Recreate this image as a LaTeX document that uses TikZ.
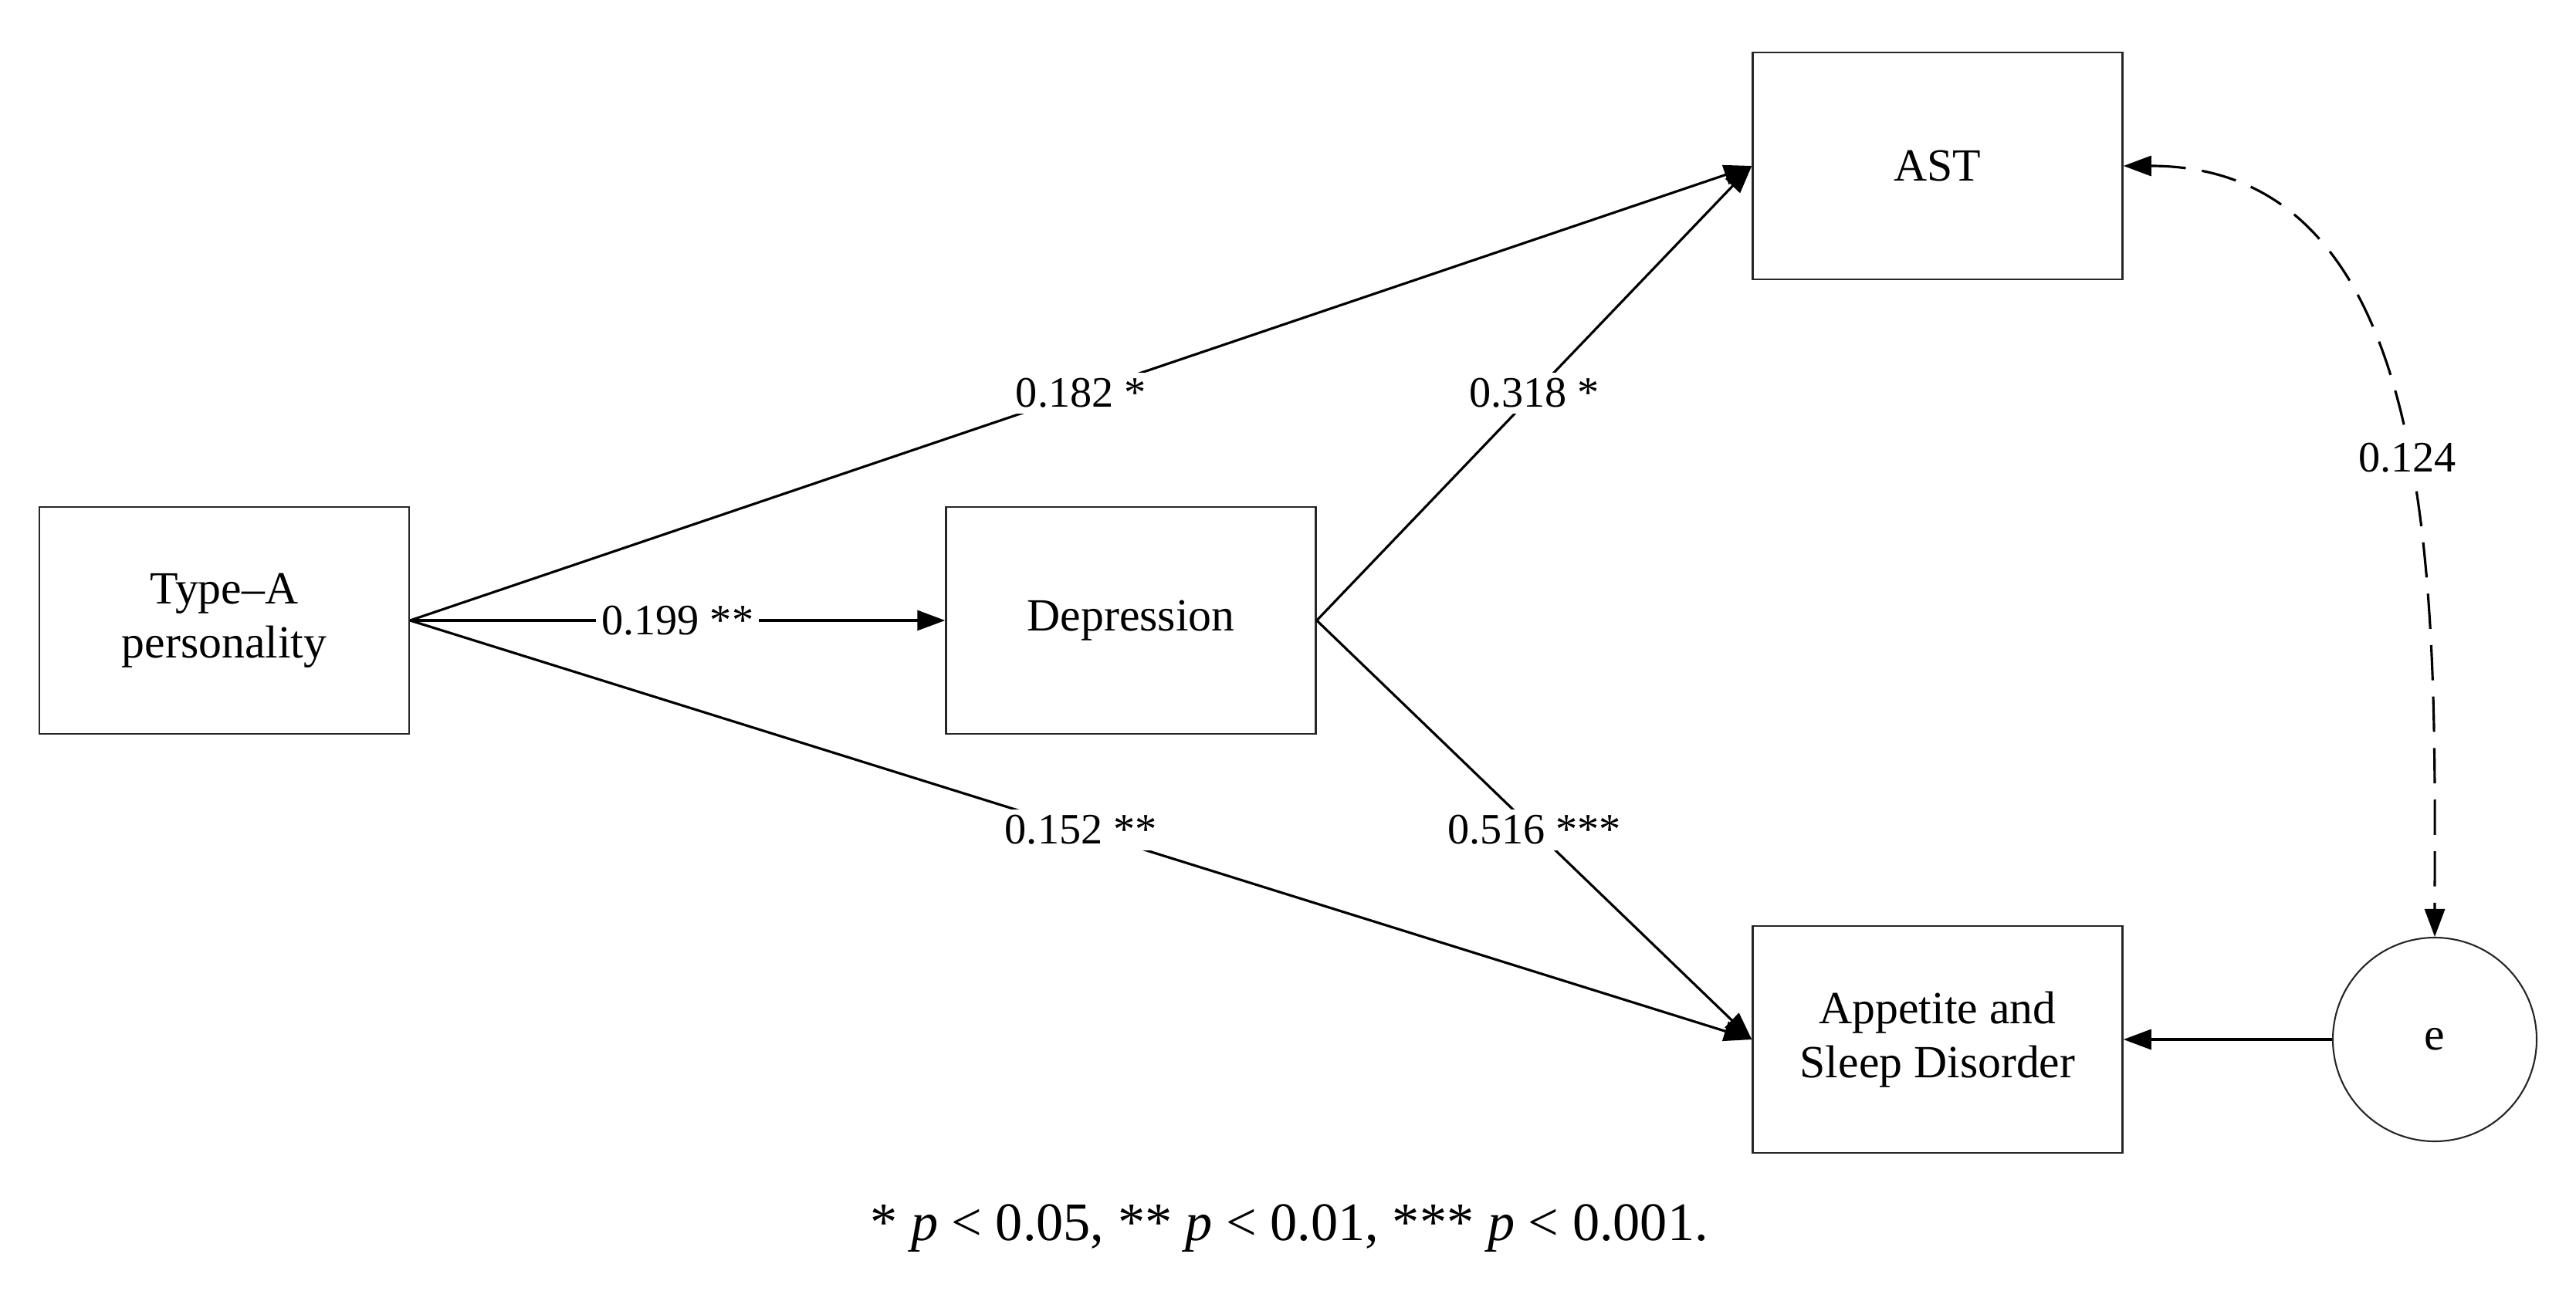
\documentclass[tikz,border=0pt]{standalone}
\usepackage{fontspec}
\setmainfont{Liberation Serif}
\usetikzlibrary{arrows.meta}

\begin{document}
\begin{tikzpicture}[
    var box/.style={
        rectangle,
        draw=black!85,
        line width=0.7pt,
        minimum width=4.79cm,
        minimum height=2.94cm,
        inner sep=0pt,
        align=center,
        font=\fontsize{17}{20}\selectfont
    },
    err circle/.style={
        circle,
        draw=black!85,
        line width=0.6pt,
        minimum size=2.64cm,
        inner sep=0pt,
        font=\fontsize{17}{20}\selectfont
    },
    path arrow/.style={
        -{Triangle[length=3.6mm,width=2.6mm]},
        line width=0.9pt
    },
    coef/.style={
        fill=white,
        inner sep=2pt,
        font=\fontsize{16}{19}\selectfont
    }
]
\useasboundingbox (0,0) rectangle (33.37,-16.94);

% Variables
\node[var box] (typeA) at (2.905,-8.04) {Type--A\\personality};
\node[var box] (depr) at (14.65,-8.04) {Depression};
\node[var box] (ast) at (25.10,-2.15) {AST};
\node[var box] (appetite) at (25.10,-13.47) {Appetite and\\Sleep Disorder};
\node[err circle] (err) at (31.54,-13.47) {e};

% Paths
\draw[path arrow] (typeA.east) -- node[coef] {0.182 *} (ast.west);
\draw[path arrow] (typeA.east) -- node[coef] {0.199 **} (depr.west);
\draw[path arrow] (typeA.east) -- node[coef] {0.152 **} (appetite.west);
\draw[path arrow] (depr.east) -- node[coef] {0.318 *} (ast.west);
\draw[path arrow] (depr.east) -- node[coef] {0.516 ***} (appetite.west);
\draw[path arrow] (err.west) -- (appetite.east);

% Covariance
\draw[path arrow, {Triangle[length=3.6mm,width=2.6mm]}-{Triangle[length=3.6mm,width=2.6mm]},
      dash pattern=on 13pt off 6pt]
    (ast.east) to[out=0,in=90] node[coef, pos=0.53] {0.124} (err.north);

% Note
\node[font=\fontsize{20}{24}\selectfont] (note) at (16.70,-15.92)
    {* \textit{p} < 0.05, ** \textit{p} < 0.01, *** \textit{p} < 0.001.};

\end{tikzpicture}
\end{document}
